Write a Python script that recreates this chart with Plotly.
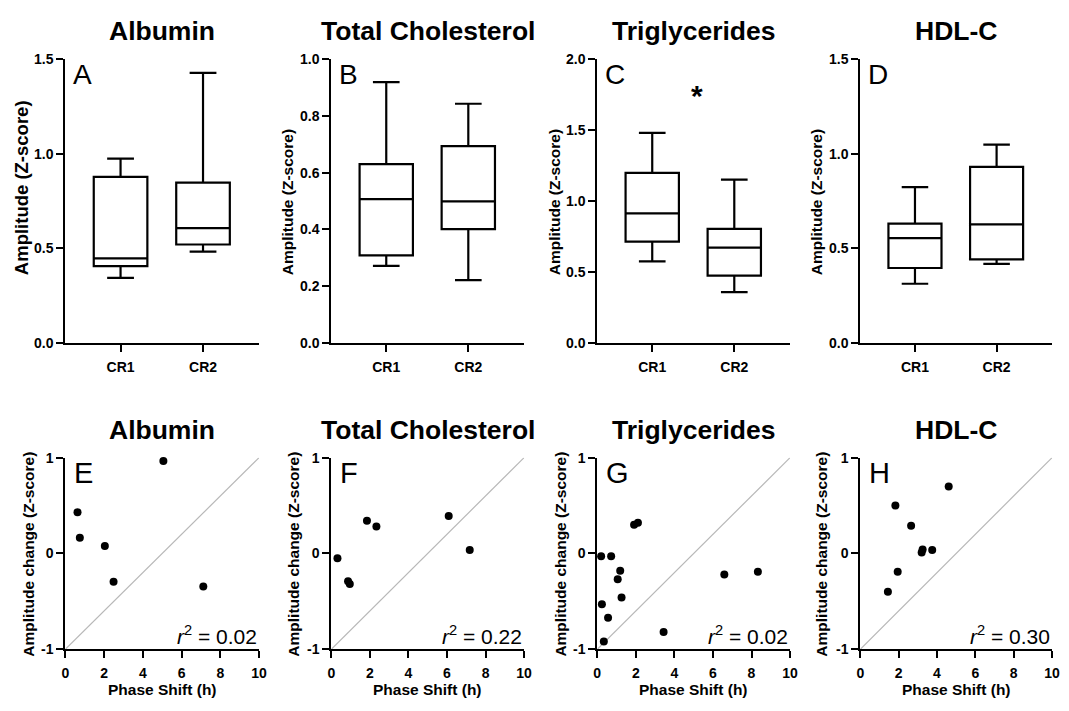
import plotly.graph_objects as go

W, H = 1069, 711
FONT = "Arial, Liberation Sans, Helvetica, sans-serif"

analytes = ["Albumin", "Total Cholesterol", "Triglycerides", "HDL-C"]
groups = ["CR1", "CR2"]
top_letters = ["A", "B", "C", "D"]
bottom_letters = ["E", "F", "G", "H"]

# ---- Box plot summary values (CR1, CR2) ----
alb_lower = [0.345, 0.483]
alb_q1 = [0.407, 0.521]
alb_med = [0.448, 0.607]
alb_q3 = [0.878, 0.847]
alb_upper = [0.974, 1.426]

tc_lower = [0.272, 0.222]
tc_q1 = [0.309, 0.401]
tc_med = [0.507, 0.499]
tc_q3 = [0.630, 0.693]
tc_upper = [0.918, 0.842]

tg_lower = [0.576, 0.359]
tg_q1 = [0.715, 0.475]
tg_med = [0.914, 0.672]
tg_q3 = [1.198, 0.805]
tg_upper = [1.479, 1.150]

hdl_lower = [0.314, 0.419]
hdl_q1 = [0.397, 0.442]
hdl_med = [0.555, 0.627]
hdl_q3 = [0.631, 0.930]
hdl_upper = [0.823, 1.048]

box_ymax = [1.5, 1.0, 2.0, 1.5]
box_dtick = [0.5, 0.2, 0.5, 0.5]

# ---- Scatter values: phase shift (h) vs amplitude change (Z-score) ----
alb_shift = [0.63, 0.75, 2.04, 2.49, 5.06, 7.12]
alb_change = [0.43, 0.165, 0.077, -0.295, 0.966, -0.346]
tc_shift = [0.32, 0.87, 0.96, 1.85, 2.34, 6.09, 7.18]
tc_change = [-0.05, -0.29, -0.32, 0.34, 0.28, 0.39, 0.035]
tg_shift = [0.20, 0.72, 0.24, 0.56, 0.34, 1.19, 1.06, 1.26, 1.91, 2.11, 3.44, 6.59, 8.33]
tg_change = [-0.03, -0.03, -0.53, -0.67, -0.92, -0.18, -0.27, -0.46, 0.30, 0.32, -0.82, -0.22, -0.19]
hdl_shift = [1.44, 1.83, 1.95, 2.65, 3.20, 3.25, 3.75, 4.61]
hdl_change = [-0.40, 0.50, -0.19, 0.29, 0.01, 0.04, 0.035, 0.70]

r2_values = ["0.02", "0.22", "0.02", "0.30"]
identity_x = [0, 10]
identity_y = [-1, 1]
scatter_yticks = [-1, 0, 1]
scatter_ytext = ["-1", "0", "1"]

box_sets = [
    (alb_lower, alb_q1, alb_med, alb_q3, alb_upper),
    (tc_lower, tc_q1, tc_med, tc_q3, tc_upper),
    (tg_lower, tg_q1, tg_med, tg_q3, tg_upper),
    (hdl_lower, hdl_q1, hdl_med, hdl_q3, hdl_upper),
]
scatter_sets = [
    (alb_shift, alb_change),
    (tc_shift, tc_change),
    (tg_shift, tg_change),
    (hdl_shift, hdl_change),
]

# ---- layout geometry (pixels) ----
col_px = [(62, 258), (331, 526), (600, 795), (866, 1060)]
top_px = (52, 343)
bot_px = (460, 656)


def px_x(x):
    return x / W


def px_y(y):
    return 1 - y / H


fig = go.Figure()
annotations = []

axis_common = dict(
    showline=True, linecolor="black", linewidth=2,
    ticks="outside", ticklen=7, tickwidth=2, tickcolor="black",
    showgrid=False, zeroline=False,
    tickfont=dict(family=FONT, size=14, color="black", weight="bold"),
)

for i in range(4):
    x0, x1 = col_px[i]
    xdom = [px_x(x0), px_x(x1)]
    ax_t = i + 1
    ax_b = i + 5
    lo, q1, med, q3, up = box_sets[i]
    fig.add_trace(go.Box(
        x=groups, q1=q1, median=med, q3=q3, lowerfence=lo, upperfence=up,
        width=0.65, whiskerwidth=0.5, boxpoints=False,
        line=dict(color="black", width=2.2), fillcolor="rgba(0,0,0,0)",
        xaxis=f"x{ax_t}", yaxis=f"y{ax_t}", showlegend=False, hoverinfo="skip",
    ))
    sx, sy = scatter_sets[i]
    fig.add_trace(go.Scatter(
        x=identity_x, y=identity_y, mode="lines",
        line=dict(color="#b8b8b8", width=1.2),
        xaxis=f"x{ax_b}", yaxis=f"y{ax_b}", showlegend=False, hoverinfo="skip",
    ))
    fig.add_trace(go.Scatter(
        x=sx, y=sy, mode="markers", marker=dict(color="black", size=8),
        xaxis=f"x{ax_b}", yaxis=f"y{ax_b}", showlegend=False, cliponaxis=False,
    ))

    fig.layout[f"xaxis{ax_t}"] = dict(
        axis_common, domain=xdom, anchor=f"y{ax_t}", type="category",
        range=[-0.67, 1.68], ticklabelstandoff=3,
    )
    fig.layout[f"yaxis{ax_t}"] = dict(
        axis_common, domain=[px_y(top_px[1]), px_y(top_px[0])], anchor=f"x{ax_t}",
        range=[0, box_ymax[i]], dtick=box_dtick[i], tick0=0, tickformat=".1f",
    )
    fig.layout[f"xaxis{ax_b}"] = dict(
        axis_common, domain=xdom, anchor=f"y{ax_b}",
        range=[0, 10], dtick=2, tick0=0, ticklabelstandoff=3,
    )
    fig.layout[f"yaxis{ax_b}"] = dict(
        axis_common, domain=[px_y(bot_px[1]), px_y(bot_px[0])], anchor=f"x{ax_b}",
        range=[-1, 1], tickvals=scatter_yticks, ticktext=scatter_ytext,
    )

    xc = (x0 + x1) / 2
    for yy in (24, 432):
        annotations.append(dict(
            text=analytes[i], xref="paper", yref="paper", x=px_x(xc), y=px_y(yy),
            xanchor="center", yanchor="middle", showarrow=False,
            font=dict(family=FONT, size=26.5, color="black", weight="bold"),
        ))
    annotations.append(dict(
        text=top_letters[i], xref="paper", yref="paper", x=px_x(x0 + 6), y=px_y(68),
        xanchor="left", yanchor="middle", showarrow=False,
        font=dict(family=FONT, size=28, color="black"),
    ))
    annotations.append(dict(
        text=bottom_letters[i], xref="paper", yref="paper", x=px_x(x0 + 7), y=px_y(476),
        xanchor="left", yanchor="middle", showarrow=False,
        font=dict(family=FONT, size=29, color="black"),
    ))
    top_title_x = [18, 287, 557, 822][i]
    top_title_y = [183.5, 199, 199, 199][i]
    top_title_size = [18.5, 15.5, 15.5, 15.5][i]
    annotations.append(dict(
        text="Amplitude (Z-score)", xref="paper", yref="paper",
        x=px_x(top_title_x), y=px_y(top_title_y), textangle=-90,
        xanchor="center", yanchor="middle", showarrow=False,
        font=dict(family=FONT, size=top_title_size, color="black", weight="bold"),
    ))
    bot_title_x = [25, 293, 563, 827][i]
    annotations.append(dict(
        text="Amplitude change (Z-score)", xref="paper", yref="paper",
        x=px_x(bot_title_x), y=px_y(558.5), textangle=-90,
        xanchor="center", yanchor="middle", showarrow=False,
        font=dict(family=FONT, size=15.5, color="black", weight="bold"),
    ))
    annotations.append(dict(
        text="Phase Shift (h)", xref="paper", yref="paper",
        x=px_x(xc), y=px_y(697),
        xanchor="center", yanchor="middle", showarrow=False,
        font=dict(family=FONT, size=15.5, color="black", weight="bold"),
    ))
    annotations.append(dict(
        text=f"<i>r</i><sup>2</sup> = {r2_values[i]}", xref=f"x{ax_b}", yref=f"y{ax_b}",
        x=10, y=-0.85, xanchor="right", yanchor="middle", showarrow=False,
        font=dict(family=FONT, size=21, color="black"),
    ))

annotations.append(dict(
    text="*", xref="x3", yref="y3", x=0.55, y=1.74,
    xanchor="center", yanchor="middle", showarrow=False,
    font=dict(family=FONT, size=30, color="black", weight="bold"),
))

fig.update_layout(
    width=W, height=H,
    margin=dict(l=0, r=0, t=0, b=0),
    paper_bgcolor="white", plot_bgcolor="white",
    annotations=annotations,
    showlegend=False,
)

fig.write_html(
    "out.html",
    config={"displayModeBar": False},
    post_script="document.body.style.margin='0px';document.body.style.overflow='hidden';",
)
